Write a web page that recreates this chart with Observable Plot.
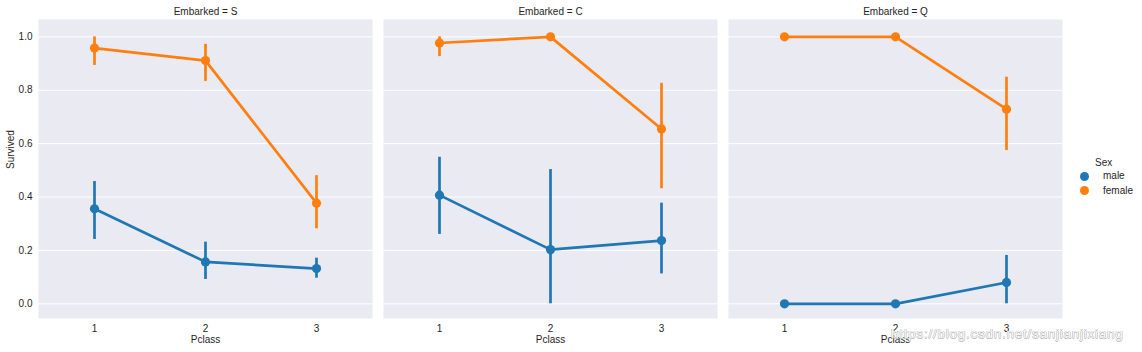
<!DOCTYPE html>
<html>
<head>
<meta charset="utf-8">
<script src="https://cdn.jsdelivr.net/npm/d3@7"></script>
<script src="https://cdn.jsdelivr.net/npm/@observablehq/plot@0.6"></script>
<style>
  body { margin: 0; background: white; font-family: "Liberation Sans", Arial, sans-serif; }
  #wrap { position: relative; width: 1142px; height: 352px; }
  #legend { position: absolute; left: 1076px; top: 157px; font-size: 10px; color: #262626; }
  #legend .title { position: absolute; left: 19px; top: 0; white-space: nowrap; }
  #legend .item { position: absolute; left: 4px; white-space: nowrap; height: 12px; line-height: 12px; }
  #legend .item span.dot { position: absolute; left: 0; top: 1.5px; width: 9px; height: 9px; border-radius: 50%; }
  #legend .item span.lab { position: absolute; left: 23px; top: 0; }
  #wm { position: absolute; left: 891px; top: 327px; font-size: 13.5px; line-height: 13.5px; letter-spacing: 0.75px;
        color: rgba(255,255,255,0.9);
        text-shadow: 0.5px 0 0 #bbb, -0.5px 0 0 #bbb, 0 0.5px 0 #bbb, 0 -0.5px 0 #bbb; white-space: nowrap; }
</style>
</head>
<body>
<div id="wrap"><div id="chart"></div><div id="legend"></div><div id="wm">https://blog.csdn.net/sanjianjixiang</div></div>
<script>
const ports = ["S", "C", "Q"];
const pclasses = [1, 2, 3];
const sexes = ["male", "female"];
const colors = ["#1f77b4", "#ff7f0e"];
const yTicks = [0, 0.2, 0.4, 0.6, 0.8, 1.0];

// [port][pclass]
const maleMean = [[0.356, 0.157, 0.132], [0.407, 0.203, 0.237], [0.0, 0.0, 0.08]];
const maleLow  = [[0.241, 0.091, 0.096], [0.260, 0.0, 0.112], [0.0, 0.0, 0.0]];
const maleHigh = [[0.458, 0.231, 0.171], [0.549, 0.503, 0.377], [0.0, 0.0, 0.181]];
const femaleMean = [[0.958, 0.911, 0.377], [0.977, 1.0, 0.655], [1.0, 1.0, 0.729]];
const femaleLow  = [[0.893, 0.833, 0.281], [0.926, 1.0, 0.431], [1.0, 1.0, 0.574]];
const femaleHigh = [[1.0, 0.972, 0.480], [1.0, 1.0, 0.826], [1.0, 1.0, 0.849]];

const series = {male: [maleMean, maleLow, maleHigh], female: [femaleMean, femaleLow, femaleHigh]};
const data = [];
for (const sex of sexes) {
  const [m, lo, hi] = series[sex];
  ports.forEach((port, i) => pclasses.forEach((pc, j) => {
    data.push({sex, port, pclass: pc, mean: m[i][j], lo: lo[i][j], hi: hi[i][j]});
  }));
}

const chart = Plot.plot({
  width: 1142, height: 352,
  marginLeft: 38, marginRight: 80, marginTop: 19, marginBottom: 34,
  style: {fontFamily: "'Liberation Sans', Arial, sans-serif", fontSize: "10px", color: "#262626", background: "white"},
  fx: {domain: ports, paddingInner: 0.032, paddingOuter: 0, label: null},
  x: {type: "point", domain: pclasses, padding: 0.5},
  y: {domain: [-0.055, 1.065]},
  color: {domain: sexes, range: colors},
  marks: [
    Plot.frame({fill: "#eaeaf2", stroke: null}),
    Plot.gridY(yTicks, {stroke: "white", strokeOpacity: 1, strokeWidth: 1}),
    Plot.axisFx({anchor: "top", tickSize: 0, tickPadding: 5, label: null, tickFormat: d => `Embarked = ${d}`}),
    Plot.axisY(yTicks, {tickSize: 0, tickPadding: 6, tickFormat: ".1f", label: null}),
    Plot.axisX({tickSize: 0, tickPadding: 6, label: null}),
    Plot.text([ports[0]], {fx: d => d, text: () => "Survived", frameAnchor: "left", rotate: -90, dx: -28, fill: "#262626"}),
    Plot.text(ports, {fx: d => d, text: () => "Pclass", frameAnchor: "bottom", dy: 24, fill: "#262626"}),
    Plot.ruleX(data, {fx: "port", x: "pclass", y1: "lo", y2: "hi", stroke: "sex", strokeWidth: 2.7}),
    Plot.line(data, {fx: "port", x: "pclass", y: "mean", stroke: "sex", z: "sex", strokeWidth: 2.7}),
    Plot.dot(data, {fx: "port", x: "pclass", y: "mean", fill: "sex", r: 4.6})
  ]
});
document.getElementById("chart").appendChild(chart);

const legend = document.getElementById("legend");
const t = document.createElement("div");
t.className = "title"; t.textContent = "Sex";
legend.appendChild(t);
sexes.forEach((s, i) => {
  const it = document.createElement("div");
  it.className = "item";
  it.style.top = (13 + i * 14.5) + "px";
  it.innerHTML = `<span class="dot" style="background:${colors[i]}"></span><span class="lab">${s}</span>`;
  legend.appendChild(it);
});
</script>
</body>
</html>
